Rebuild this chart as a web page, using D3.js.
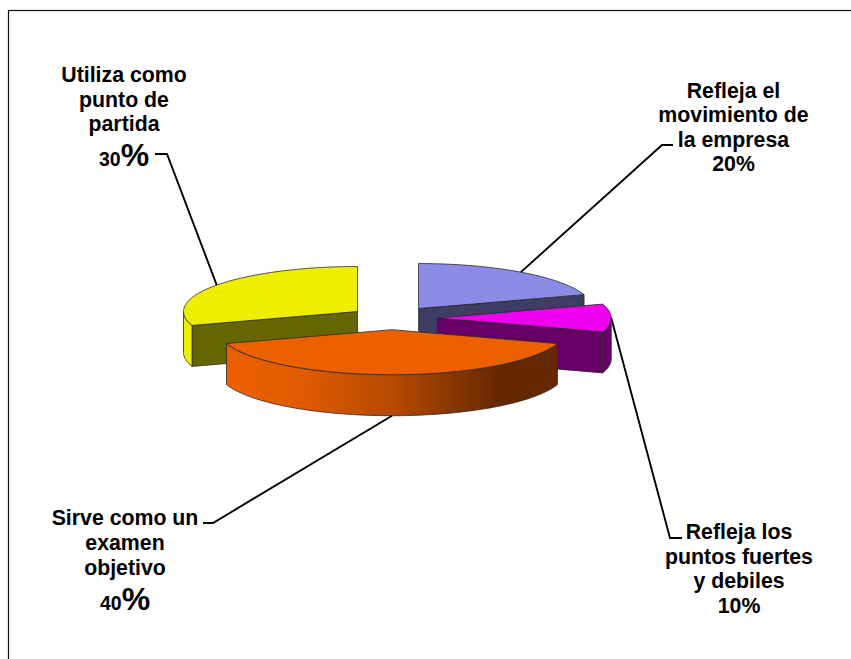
<!DOCTYPE html>
<html>
<head>
<meta charset="utf-8">
<script src="https://cdn.jsdelivr.net/npm/d3@7"></script>
<style>
  html, body { margin: 0; padding: 0; background: #fff; }
  svg { display: block; }
  text { font-family: "Liberation Sans", Arial, sans-serif; font-weight: bold; font-size: 21.3px; fill: #000; }
</style>
</head>
<body>
<script>
// data, clockwise from twelve o'clock
const labels = [
  ["Refleja el", "movimiento de", "la empresa"],
  ["Refleja los", "puntos fuertes", "y debiles"],
  ["Sirve como un", "examen", "objetivo"],
  ["Utiliza como", "punto de", "partida"]
];
const values = [20, 10, 40, 30];
const topColors = ["#8c8ce8", "#ee00ee", "#ec6000", "#eeee00"];
const faceColors = ["#3d3d66", "#660066", "#662800", "#666600"];
const wallColors = ["#3d3d66", "#660066", "url(#orangeWall)", "#eeee00"];
const drawOrder = [3, 0, 1, 2];

// layout of the labels and leader elbows
const labelX = [733.5, 739, 125, 124];
const labelY = [98, 539, 525, 82];
const lineGap = [24.4, 24.5, 25, 24.5];
const percentGap = [24, 25, 34.5, 35];
const numberSize = [21.3, 21.3, 19.5, 19.5];
const percentSize = [21.3, 21.3, 32, 32];
const explode = [0.26, 0.26, 0.26, 0.245];
const elbows = [
  [[662, 145], [673, 145]],
  [[670, 538], [682, 538]],
  [[213, 523], [203, 523]],
  [[167, 154], [155, 154]]
];

const width = 851;
const height = 659;
const cx = 392;
const cy = 318;
const rx = 174;
const ry = 45;
const depth = 41;
const wallStart = Math.PI / 2;
const wallEnd = Math.PI * 3 / 2;

const svg = d3.select("body").append("svg")
    .attr("width", width)
    .attr("height", height);

// frame runs off the right and bottom of the picture
svg.append("rect")
    .attr("x", 8.5)
    .attr("y", 10.5)
    .attr("width", width)
    .attr("height", height)
    .attr("fill", "#fff")
    .attr("stroke", "#111")
    .attr("stroke-width", 1.2);

const gradient = svg.append("defs").append("linearGradient")
    .attr("id", "orangeWall")
    .attr("gradientUnits", "userSpaceOnUse")
    .attr("x1", 227).attr("x2", 557)
    .attr("y1", 0).attr("y2", 0);
gradient.selectAll("stop")
    .data([[0, "#ec6000"], [0.2, "#e25c00"], [0.5, "#b64a00"], [0.82, "#662800"], [1, "#662800"]])
    .join("stop")
    .attr("offset", d => d[0])
    .attr("stop-color", d => d[1]);

const x = d3.scaleLinear().domain([-1, 1]).range([cx - rx, cx + rx]);
const y = d3.scaleLinear().domain([-1, 1]).range([cy + ry, cy - ry]);
const line = d3.line();

const arcs = d3.pie().sort(null)(values);

function apex(d) {
  const mid = (d.startAngle + d.endAngle) / 2;
  return [explode[d.index] * Math.sin(mid), explode[d.index] * Math.cos(mid)];
}

function rimPoint(d, angle, drop) {
  const a = apex(d);
  return [x(a[0] + Math.sin(angle)), y(a[1] + Math.cos(angle)) + drop];
}

function rim(d, from, to, drop) {
  const n = Math.max(2, Math.ceil((to - from) / 0.02));
  return d3.range(n + 1).map(i => rimPoint(d, from + (to - from) * i / n, drop));
}

function centre(d, drop) {
  const a = apex(d);
  return [x(a[0]), y(a[1]) + drop];
}

const slices = svg.selectAll("g.slice")
    .data(drawOrder.map(i => arcs[i]))
    .join("g")
    .attr("class", "slice")
    .attr("stroke", "#2b2b2b")
    .attr("stroke-width", 0.8)
    .attr("stroke-linejoin", "round");

// straight cut face, only where it looks towards the viewer
slices.filter(d => d.startAngle > Math.PI || d.endAngle < Math.PI * 0.75)
    .append("path")
    .attr("d", d => {
      const angle = d.startAngle > Math.PI ? d.startAngle : d.endAngle;
      return line([centre(d, 0), rimPoint(d, angle, 0), rimPoint(d, angle, depth), centre(d, depth)]) + "Z";
    })
    .attr("fill", d => faceColors[d.index]);

// outer wall, the lower half of the ellipse
slices.filter(d => d.endAngle > wallStart && d.startAngle < wallEnd)
    .append("path")
    .attr("d", d => {
      const from = Math.max(d.startAngle, wallStart);
      const to = Math.min(d.endAngle, wallEnd);
      return line(rim(d, from, to, 0).concat(rim(d, from, to, depth).reverse())) + "Z";
    })
    .attr("fill", d => wallColors[d.index]);

slices.append("path")
    .attr("d", d => line([centre(d, 0)].concat(rim(d, d.startAngle, d.endAngle, 0))) + "Z")
    .attr("fill", d => topColors[d.index]);

// leader lines start on the slice's middle angle
svg.selectAll("path.leader")
    .data(arcs)
    .join("path")
    .attr("class", "leader")
    .attr("d", d => {
      const mid = (d.startAngle + d.endAngle) / 2;
      const drop = d.index === 2 ? depth : 0;
      return line([rimPoint(d, mid, drop)].concat(elbows[d.index]));
    })
    .attr("fill", "none")
    .attr("stroke", "#000")
    .attr("stroke-width", 1.9);

const blocks = svg.selectAll("text.label")
    .data(labels)
    .join("text")
    .attr("class", "label")
    .attr("text-anchor", "middle");

blocks.each(function (lines, i) {
  const block = d3.select(this);
  lines.forEach((t, k) => {
    block.append("tspan")
        .attr("x", labelX[i])
        .attr("y", labelY[i] + k * lineGap[i])
        .text(t);
  });
  const last = block.append("tspan")
      .attr("x", labelX[i])
      .attr("y", labelY[i] + (lines.length - 1) * lineGap[i] + percentGap[i])
      .style("font-size", numberSize[i] + "px")
      .text(values[i]);
  last.append("tspan")
      .style("font-size", percentSize[i] + "px")
      .text("%");
});
</script>
</body>
</html>
